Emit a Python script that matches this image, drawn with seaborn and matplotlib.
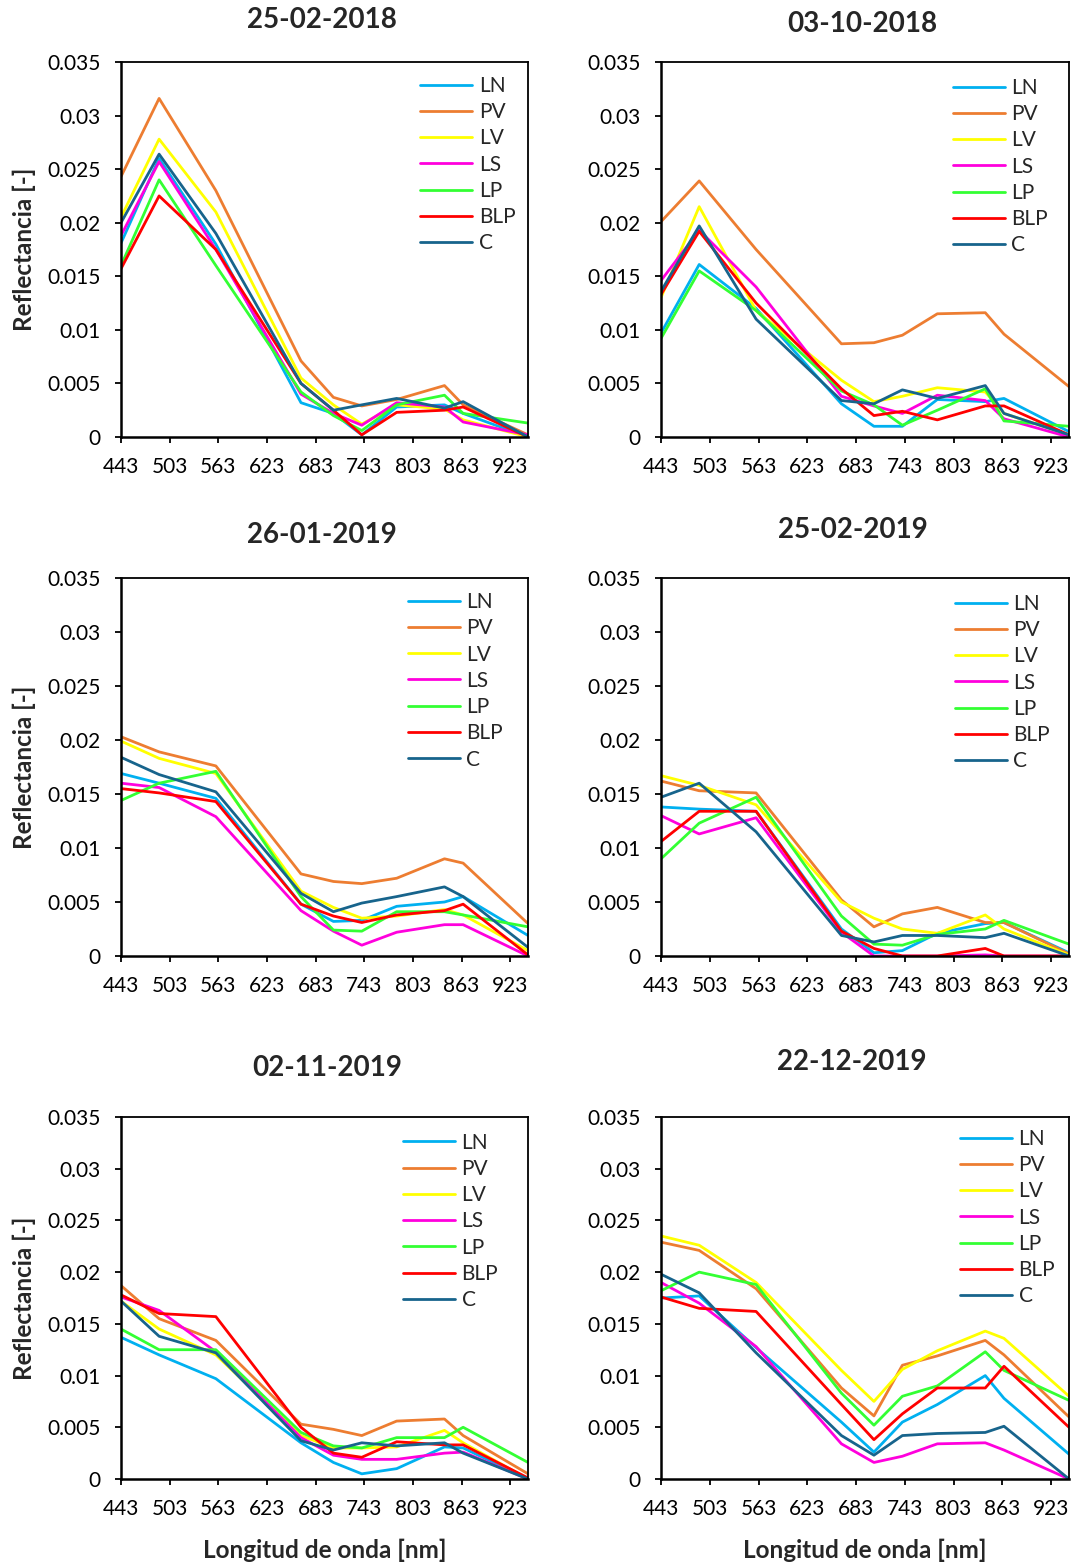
import numpy as np
import pandas as pd
import matplotlib
matplotlib.use("Agg")
import matplotlib.pyplot as plt
import seaborn as sns

# Sentinel-2 band centres (nm)
wavelengths = [443, 490, 560, 665, 705, 740, 783, 842, 865, 945]
classes = ["LN", "PV", "LV", "LS", "LP", "BLP", "C"]
colors = ["#00B0F0", "#ED7D31", "#FFFF00", "#FF00DD", "#33FF33", "#FF0000", "#17648C"]
x_ticks = [443, 503, 563, 623, 683, 743, 803, 863, 923]
y_ticks = [0, 0.005, 0.01, 0.015, 0.02, 0.025, 0.03, 0.035]
y_tick_labels = ["0", "0.005", "0.01", "0.015", "0.02", "0.025", "0.03", "0.035"]

dates = ["25-02-2018", "03-10-2018", "26-01-2019", "25-02-2019", "02-11-2019", "22-12-2019"]

# Reflectance per class for each date
r_2018_02_25 = {
    "LN":  [0.0181, 0.0260, 0.0180, 0.0032, 0.0022, 0.0002, 0.0028, 0.0030, 0.0022, 0.0000],
    "PV":  [0.0243, 0.0316, 0.0230, 0.0071, 0.0037, 0.0029, 0.0035, 0.0048, 0.0030, 0.0002],
    "LV":  [0.0205, 0.0278, 0.0210, 0.0055, 0.0030, 0.0012, 0.0030, 0.0026, 0.0016, 0.0000],
    "LS":  [0.0188, 0.0257, 0.0175, 0.0040, 0.0022, 0.0011, 0.0032, 0.0028, 0.0014, 0.0002],
    "LP":  [0.0160, 0.0240, 0.0160, 0.0042, 0.0020, 0.0006, 0.0030, 0.0039, 0.0022, 0.0013],
    "BLP": [0.0157, 0.0225, 0.0175, 0.0050, 0.0025, 0.0002, 0.0023, 0.0025, 0.0028, 0.0000],
    "C":   [0.0200, 0.0264, 0.0190, 0.0050, 0.0025, 0.0030, 0.0036, 0.0027, 0.0033, 0.0000],
}
r_2018_10_03 = {
    "LN":  [0.0097, 0.0161, 0.0120, 0.0031, 0.0010, 0.0010, 0.0035, 0.0033, 0.0036, 0.0005],
    "PV":  [0.0201, 0.0239, 0.0175, 0.0087, 0.0088, 0.0095, 0.0115, 0.0116, 0.0096, 0.0047],
    "LV":  [0.0130, 0.0215, 0.0118, 0.0053, 0.0033, 0.0038, 0.0046, 0.0042, 0.0022, 0.0002],
    "LS":  [0.0146, 0.0193, 0.0140, 0.0038, 0.0029, 0.0022, 0.0039, 0.0034, 0.0017, 0.0000],
    "LP":  [0.0092, 0.0155, 0.0118, 0.0043, 0.0030, 0.0011, 0.0025, 0.0045, 0.0015, 0.0010],
    "BLP": [0.0133, 0.0192, 0.0125, 0.0045, 0.0020, 0.0024, 0.0016, 0.0029, 0.0029, 0.0002],
    "C":   [0.0136, 0.0197, 0.0110, 0.0034, 0.0031, 0.0044, 0.0036, 0.0048, 0.0022, 0.0002],
}
r_2019_01_26 = {
    "LN":  [0.0169, 0.0160, 0.0146, 0.0048, 0.0032, 0.0033, 0.0046, 0.0050, 0.0055, 0.0019],
    "PV":  [0.0203, 0.0189, 0.0176, 0.0076, 0.0069, 0.0067, 0.0072, 0.0090, 0.0086, 0.0030],
    "LV":  [0.0199, 0.0183, 0.0169, 0.0060, 0.0045, 0.0035, 0.0037, 0.0043, 0.0038, 0.0005],
    "LS":  [0.0160, 0.0156, 0.0129, 0.0042, 0.0023, 0.0010, 0.0022, 0.0029, 0.0029, 0.0000],
    "LP":  [0.0144, 0.0160, 0.0171, 0.0055, 0.0024, 0.0023, 0.0041, 0.0041, 0.0038, 0.0027],
    "BLP": [0.0155, 0.0151, 0.0143, 0.0048, 0.0037, 0.0031, 0.0038, 0.0042, 0.0048, 0.0001],
    "C":   [0.0184, 0.0168, 0.0152, 0.0058, 0.0041, 0.0049, 0.0055, 0.0064, 0.0055, 0.0008],
}
r_2019_02_25 = {
    "LN":  [0.0138, 0.0136, 0.0134, 0.0025, 0.0003, 0.0005, 0.0021, 0.0030, 0.0031, 0.0003],
    "PV":  [0.0162, 0.0153, 0.0151, 0.0052, 0.0027, 0.0039, 0.0045, 0.0031, 0.0031, 0.0002],
    "LV":  [0.0167, 0.0158, 0.0140, 0.0050, 0.0035, 0.0025, 0.0021, 0.0038, 0.0025, 0.0001],
    "LS":  [0.0130, 0.0113, 0.0128, 0.0022, 0.0000, 0.0000, 0.0000, 0.0001, 0.0000, 0.0000],
    "LP":  [0.0090, 0.0123, 0.0147, 0.0037, 0.0011, 0.0010, 0.0020, 0.0025, 0.0033, 0.0011],
    "BLP": [0.0106, 0.0134, 0.0134, 0.0023, 0.0007, 0.0000, 0.0000, 0.0007, 0.0000, 0.0000],
    "C":   [0.0147, 0.0160, 0.0115, 0.0019, 0.0013, 0.0019, 0.0019, 0.0017, 0.0021, 0.0000],
}
r_2019_11_02 = {
    "LN":  [0.0137, 0.0120, 0.0097, 0.0035, 0.0016, 0.0005, 0.0010, 0.0031, 0.0030, 0.0000],
    "PV":  [0.0187, 0.0155, 0.0134, 0.0053, 0.0048, 0.0042, 0.0056, 0.0058, 0.0042, 0.0005],
    "LV":  [0.0172, 0.0145, 0.0120, 0.0042, 0.0030, 0.0030, 0.0031, 0.0047, 0.0035, 0.0000],
    "LS":  [0.0176, 0.0163, 0.0123, 0.0040, 0.0023, 0.0019, 0.0019, 0.0025, 0.0026, 0.0000],
    "LP":  [0.0145, 0.0125, 0.0125, 0.0045, 0.0032, 0.0030, 0.0040, 0.0040, 0.0050, 0.0016],
    "BLP": [0.0178, 0.0160, 0.0157, 0.0050, 0.0025, 0.0021, 0.0036, 0.0033, 0.0033, 0.0001],
    "C":   [0.0172, 0.0138, 0.0122, 0.0037, 0.0028, 0.0035, 0.0032, 0.0035, 0.0025, 0.0000],
}
r_2019_12_22 = {
    "LN":  [0.0175, 0.0177, 0.0127, 0.0055, 0.0026, 0.0055, 0.0072, 0.0100, 0.0078, 0.0024],
    "PV":  [0.0229, 0.0221, 0.0184, 0.0088, 0.0061, 0.0110, 0.0119, 0.0134, 0.0120, 0.0060],
    "LV":  [0.0235, 0.0226, 0.0190, 0.0105, 0.0075, 0.0106, 0.0124, 0.0143, 0.0136, 0.0080],
    "LS":  [0.0190, 0.0170, 0.0128, 0.0034, 0.0016, 0.0022, 0.0034, 0.0035, 0.0028, 0.0000],
    "LP":  [0.0182, 0.0200, 0.0188, 0.0083, 0.0052, 0.0080, 0.0090, 0.0123, 0.0105, 0.0076],
    "BLP": [0.0176, 0.0165, 0.0162, 0.0072, 0.0038, 0.0063, 0.0088, 0.0088, 0.0109, 0.0050],
    "C":   [0.0198, 0.0180, 0.0122, 0.0042, 0.0023, 0.0042, 0.0044, 0.0045, 0.0051, 0.0000],
}
panel_data = [r_2018_02_25, r_2018_10_03, r_2019_01_26, r_2019_02_25, r_2019_11_02, r_2019_12_22]

sns.set_theme(style="white")
plt.rcParams["font.family"] = ["Lato", "DejaVu Sans"]

W, H = 1073, 1565
fig = plt.figure(figsize=(W / 100, H / 100), dpi=100)

# axes boxes in pixels: (left, top, right, bottom)
boxes = [
    (121, 62, 528, 437), (661, 62, 1069, 437),
    (121, 578, 528, 956), (661, 578, 1069, 956),
    (121, 1117, 528, 1479), (661, 1117, 1069, 1479),
]
title_y = [20, 24, 535, 530, 1068, 1062]
title_x = [322, 862, 322, 853, 327, 852]
# legend anchor (axes fraction) for each panel
legend_anchor = [(0.715, 0.985), (0.695, 0.98), (0.685, 0.985),
                 (0.70, 0.98), (0.673, 0.98), (0.713, 0.99)]

palette = dict(zip(classes, colors))

for i, (date, data, box) in enumerate(zip(dates, panel_data, boxes)):
    l, t, r, b = box
    ax = fig.add_axes([l / W, 1 - b / H, (r - l) / W, (b - t) / H])
    df = pd.DataFrame(
        [(w, c, v) for c in classes for w, v in zip(wavelengths, data[c])],
        columns=["wl", "clase", "refl"],
    )
    sns.lineplot(data=df, x="wl", y="refl", hue="clase", hue_order=classes,
                 palette=palette, linewidth=2.0, ax=ax, legend=True)
    ax.set_xlim(443, 945)
    ax.set_ylim(0, 0.035)
    ax.set_xticks(x_ticks)
    ax.set_xticklabels([str(v) for v in x_ticks])
    ax.set_yticks(y_ticks)
    ax.set_yticklabels(y_tick_labels)
    ax.tick_params(axis="both", direction="out", length=4.5, width=1.3,
                   color="black", labelsize=15, labelcolor="black",
                   bottom=True, left=True)
    ax.tick_params(axis="x", pad=10)
    ax.tick_params(axis="y", pad=10)
    for s in ax.spines.values():
        s.set_color("black")
        s.set_linewidth(1.3)
    ax.spines["bottom"].set_linewidth(1.8)
    ax.spines["left"].set_linewidth(1.8)
    ax.grid(False)
    ax.set_xlabel("")
    ax.set_ylabel("")
    if i % 2 == 0:
        ax.set_ylabel("Reflectancia [-]", fontsize=17.5, fontweight="bold", labelpad=8)
    if i >= 4:
        ax.set_xlabel("Longitud de onda [nm]", fontsize=17.5, fontweight="bold", labelpad=14)
    fig.text(title_x[i] / W, 1 - title_y[i] / H, date, ha="center", va="center",
             fontsize=20, fontweight="bold")
    leg = ax.legend(loc="upper left", bbox_to_anchor=legend_anchor[i], frameon=False,
                    fontsize=15, handlelength=2.5, handletextpad=0.3,
                    labelspacing=0.3, borderaxespad=0.0)
    for line in leg.get_lines():
        line.set_linewidth(2.0)

fig.savefig("out.png", dpi=100)
